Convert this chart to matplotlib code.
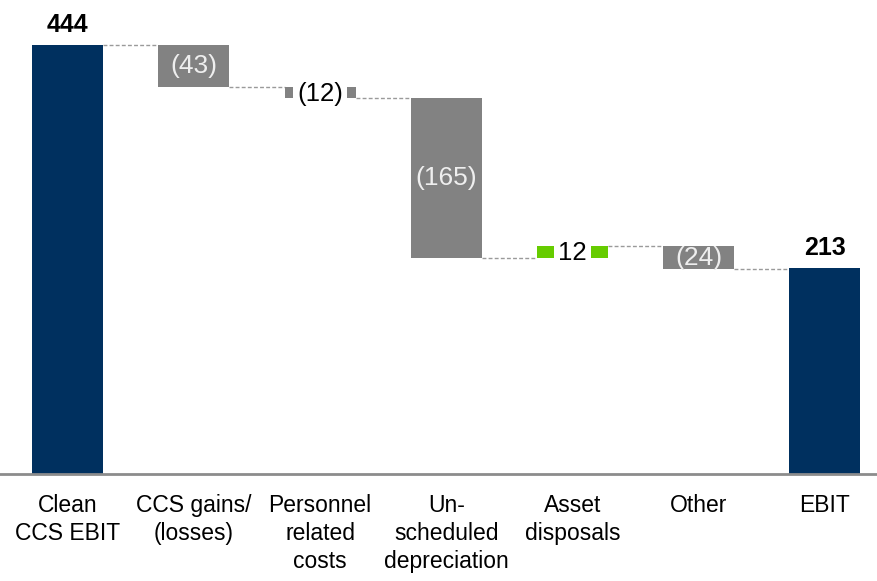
import numpy as np
import matplotlib.pyplot as plt

plt.rcParams['font.family'] = ['Liberation Sans', 'DejaVu Sans']

# Bridge from Clean CCS EBIT to EBIT
categories = ['Clean\nCCS EBIT', 'CCS gains/\n(losses)', 'Personnel\nrelated\ncosts',
              'Un-\nscheduled\ndepreciation', 'Asset\ndisposals', 'Other', 'EBIT']
start_value = 444
changes = [-43, -12, -165, 12, -24]
end_value = 213
labels = ['444', '(43)', '(12)', '(165)', '12', '(24)', '213']

NAVY = '#00305f'
GREY = '#828282'
GREEN = '#66cc00'

fig = plt.figure(figsize=(8.78, 5.81), dpi=100)
ax = fig.add_axes([0, 0.184, 1, 0.816])

x = np.arange(len(categories))
width = 0.5625

# running totals
levels = [start_value]
for c in changes:
    levels.append(levels[-1] + c)

bottoms = [0]
heights = [start_value]
colors = [NAVY]
for i, c in enumerate(changes):
    bottoms.append(min(levels[i], levels[i + 1]))
    heights.append(abs(c))
    colors.append(GREEN if c > 0 else GREY)
bottoms.append(0)
heights.append(end_value)
colors.append(NAVY)

ax.bar(x, heights, width=width, bottom=bottoms, color=colors, zorder=2)

# dashed connectors between bars
for i in range(len(categories) - 1):
    y = levels[i]
    ax.plot([x[i] + width / 2, x[i + 1] - width / 2], [y, y],
            color='#9a9a9a', lw=1, ls=(0, (2.8, 1.6)), zorder=1)

fs = 19
# totals above the end bars
ax.text(x[0], start_value + 13.5, labels[0], ha='center', va='baseline',
        fontsize=18, fontweight='bold', color='black')
ax.text(x[-1], end_value + 14, labels[-1], ha='center', va='baseline',
        fontsize=18, fontweight='bold', color='black')

# step labels
for i, c in enumerate(changes, start=1):
    mid = bottoms[i] + heights[i] / 2
    if abs(c) >= 20:
        ax.text(x[i], mid, labels[i], ha='center', va='center',
                fontsize=fs, color='#eeeeee', zorder=3)
    else:
        ax.text(x[i], mid - 1.5, labels[i], ha='center', va='center',
                fontsize=18.5, color='black', zorder=3,
                bbox=dict(facecolor='white', edgecolor='none', pad=3))

ax.set_xlim(-0.535, 6.42)
ax.set_ylim(0, 490.6)
ax.set_xticks(x)
ax.set_xticklabels(categories, fontsize=16.5, linespacing=1.3)
ax.tick_params(axis='x', length=0, pad=14)
ax.set_yticks([])
for s in ['top', 'left', 'right']:
    ax.spines[s].set_visible(False)
ax.spines['bottom'].set_color('#8c8c8c')
ax.spines['bottom'].set_linewidth(2)

fig.savefig('out.png', dpi=100)
